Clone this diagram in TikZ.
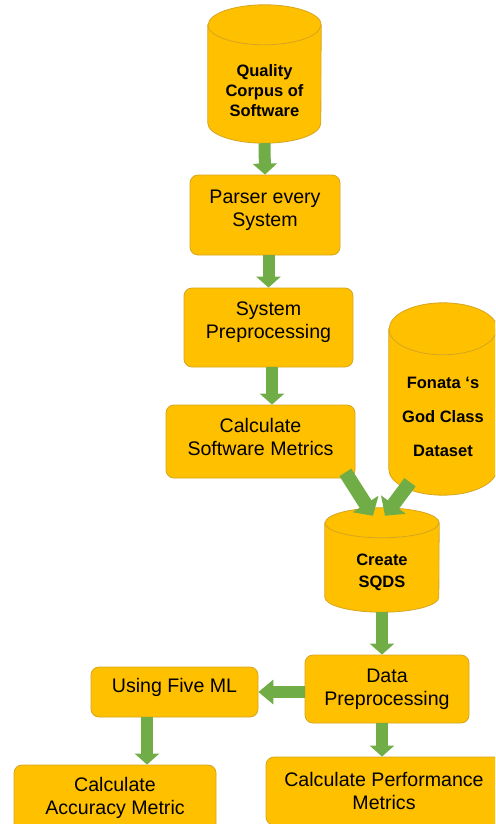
\documentclass[tikz,border=0pt]{standalone}
\usepackage{fontspec}
\setmainfont{Liberation Sans}
\usetikzlibrary{arrows.meta,calc}
\definecolor{amber}{HTML}{FFC000}
\definecolor{amberline}{HTML}{D6A520}
\definecolor{leaf}{HTML}{70AD47}
% cylinder drawn round a named node: node, x radius, y radius of the ends
\newcommand{\drumshape}[3]{%
	\filldraw[drumline] ([yshift=-#3pt]#1.north west) -- ([yshift=#3pt]#1.south west)
		arc[start angle=180, end angle=360, x radius=#2pt, y radius=#3pt]
		-- ([yshift=-#3pt]#1.north east)
		arc[start angle=0, end angle=180, x radius=#2pt, y radius=#3pt] -- cycle;
	\draw[drumline] ([yshift=-#3pt]#1.north west) arc[start angle=180, end angle=360, x radius=#2pt, y radius=#3pt];}
\begin{document}
\begin{tikzpicture}[x=1pt, y=-1pt, line join=round,
	box/.style={draw=amberline, fill=amber, rounded corners=8pt, line width=0.8pt, align=center, inner sep=0pt, font=\fontsize{19.6}{23}\selectfont},
	lift/.style={text depth=#1},
	drumspot/.style={inner sep=0pt},
	drumline/.style={draw=amberline, fill=amber, line width=0.8pt},
	drumtext/.style={align=center, inner sep=0pt, font=\bfseries\fontsize{16.5}{20}\selectfont},
	flow/.style={draw=leaf, line width=12pt, -{Triangle[length=11pt,width=24pt]}},
	wideflow/.style={flow, line width=14pt, -{Triangle[length=14pt,width=30pt]}}]
	\useasboundingbox (0,0) rectangle (495,824);
	\clip (0,0) rectangle (495,824);
	\node[drumspot, minimum width=113pt, minimum height=138pt] (corpus) at (264.5,74) {};
	\node[drumspot, minimum width=108pt, minimum height=192pt] (fonata) at (443,399) {};
	\node[drumspot, minimum width=114pt, minimum height=104pt] (sqds) at (382,560) {};
	\drumshape{corpus}{56.5}{20}
	\drumshape{fonata}{54}{26}
	\drumshape{sqds}{57}{15}
	\node[drumtext] (corpustext) at ($(corpus)+(0,17)$) {Quality\\Corpus of\\Software};
	\node[drumtext] (fonatatext) at ($(fonata)+(0,18)$) {Fonata ‘s\\[14pt]God Class\\[14pt]Dataset};
	\node[drumtext, font=\bfseries\fontsize{16.5}{22}\selectfont] (sqdstext) at ($(sqds)+(0,12)$) {Create\\SQDS};
	\draw[wideflow] ($(fonata.south)+(-33,-13)$) -- ($(sqds.north)+(3,8)$);
	\node[box, lift=14pt, minimum width=150pt, minimum height=80pt] (parser) at (265,215) {Parser every\\System};
	\node[box, lift=14pt, minimum width=169pt, minimum height=79pt] (sysprep) at (268.5,327.5) {System\\Preprocessing};
	\node[box, lift=10pt, minimum width=189pt, minimum height=73pt] (metrics) at (260.5,441.5) {Calculate\\Software Metrics};
	\node[box, minimum width=164pt, minimum height=68pt] (dataprep) at (387,689) {Data\\Preprocessing};
	\node[box, lift=14pt, minimum width=167pt, minimum height=50pt] (fiveml) at (174.5,692) {Using Five ML};
	\node[box, minimum width=202pt, minimum height=66pt] (accuracy) at (115,798) {Calculate\\Accuracy Metric};
	\node[box, minimum width=236pt, minimum height=68pt] (perf) at (384,791) {Calculate Performance\\Metrics};
	\draw[flow] (corpus.south) -- (parser.north);
	\draw[flow] (sysprep.north |- parser.south) -- (sysprep.north);
	\draw[flow] ([xshift=3.5pt]sysprep.south) -- ([xshift=3.5pt]sysprep.south |- metrics.north);
	\draw[wideflow] ($(metrics.south east)+(-10,-6)$) -- ($(sqds.north)+(-9,8)$);
	\draw[flow] (sqds.south) -- (sqds.south |- dataprep.north);
	\draw[flow, -{Triangle[length=15pt,width=24pt]}] (dataprep.west |- fiveml.east) -- (fiveml.east);
	\draw[flow] ([xshift=-27.5pt]fiveml.south) -- ([xshift=-27.5pt]fiveml.south |- accuracy.north);
	\draw[flow] ([xshift=-5pt]dataprep.south) -- ([xshift=-5pt]dataprep.south |- perf.north);
\end{tikzpicture}
\end{document}
